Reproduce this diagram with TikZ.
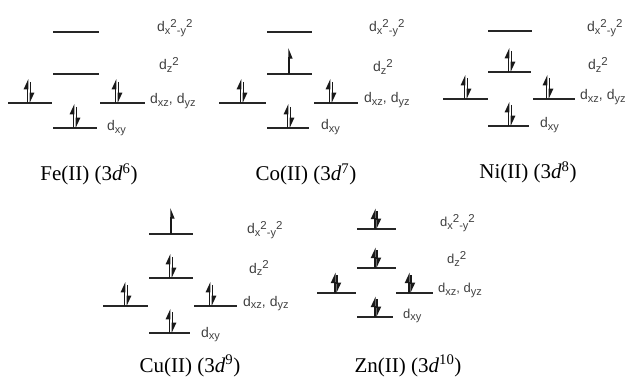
\documentclass[tikz,border=0pt]{standalone}
\usepackage{fontspec}
\setmainfont{Liberation Serif}
\newfontfamily\lblfont{Liberation Sans}
\usetikzlibrary{arrows.meta}

% sub- and superscripts of the orbital labels
\newcommand\lsub[1]{\raisebox{-0.4ex}{\fontsize{11}{11}\selectfont #1}}
\newcommand\lsup[1]{\raisebox{0.6ex}{\fontsize{11.5}{11.5}\selectfont #1}}

\begin{document}
\begin{tikzpicture}[
  x=1pt,y=-1pt,
  level/.style ={draw=black!85,line width=1.6pt},
  spin/.style  ={-{Triangle[harpoon,length=9pt,width=8pt]},line width=1.3pt,draw=black!90},
  spinr/.style ={-{Triangle[harpoon,swap,length=9pt,width=7pt]},line width=1.3pt,draw=black!90},
  orb/.style   ={font=\lblfont\fontsize{14}{16}\selectfont,text=black!75,
                 anchor=base west,inner sep=0pt},
  orbs/.style  ={orb,font=\lblfont\fontsize{13}{15}\selectfont},
  ion/.style   ={font=\fontsize{21}{24}\selectfont,anchor=base,inner sep=0pt},
  pair/.pic    ={\draw[spin] (-1.3,0) -- (-1.3,-24); \draw[spin] (1.3,-21) -- (1.3,0);},
  single/.pic  ={\draw[spinr] (0,0) -- (0,-26);},
]
\useasboundingbox (0,0) rectangle (630,377);

%% ======================================================
%% Fe(II)
%% ======================================================
\draw[level] (53,32)  -- (99,32);
\draw[level] (53,74)  -- (99,74);
\draw[level] (8,103)  -- (52,103);
\draw[level] (100,103) -- (145,103);
\draw[level] (53,128) -- (97,128);
\pic at (29,103)  {pair};
\pic at (117,103) {pair};
\pic at (75,128)  {pair};
\node[orb] (fex) at (157,32)  {d\lsub{x}\lsup{2}\lsub{-y}\lsup{2}};
\node[orb] (fez) at (159,70)  {d\lsub{z}\lsup{2}};
\node[orb] (fet) at (150,104) {d\lsub{xz}, d\lsub{yz}};
\node[orb] (fey) at (107,131) {d\lsub{xy}};
\node[ion] (fe)  at (89,181)  {Fe(II) (3\textit{d}\textsuperscript{6})};

%% ======================================================
%% Co(II)
%% ======================================================
\draw[level] (267,32)  -- (312,32);
\draw[level] (267,74)  -- (312,74);
\draw[level] (219,103) -- (266,103);
\draw[level] (314,103) -- (358,103);
\draw[level] (267,128) -- (309,128);
\pic at (289,74)  {single};
\pic at (242,103) {pair};
\pic at (331,103) {pair};
\pic at (289,128) {pair};
\node[orb] (cox) at (369,32)  {d\lsub{x}\lsup{2}\lsub{-y}\lsup{2}};
\node[orb] (coz) at (373,72)  {d\lsub{z}\lsup{2}};
\node[orb] (cot) at (364,103) {d\lsub{xz}, d\lsub{yz}};
\node[orb] (coy) at (321,130) {d\lsub{xy}};
\node[ion] (co)  at (306,181) {Co(II) (3\textit{d}\textsuperscript{7})};

%% ======================================================
%% Ni(II)
%% ======================================================
\draw[level] (488,31)  -- (532,31);
\draw[level] (488,72)  -- (531,72);
\draw[level] (443,99)  -- (488,99);
\draw[level] (533,99)  -- (575,99);
\draw[level] (488,126) -- (529,126);
\pic at (510,72)  {pair};
\pic at (466,99)  {pair};
\pic at (548,99)  {pair};
\pic at (510,126) {pair};
\node[orb] (nix) at (587,32)  {d\lsub{x}\lsup{2}\lsub{-y}\lsup{2}};
\node[orb] (niz) at (588,70)  {d\lsub{z}\lsup{2}};
\node[orb] (nit) at (580,100) {d\lsub{xz}, d\lsub{yz}};
\node[orb] (niy) at (540,128) {d\lsub{xy}};
\node[ion] (ni)  at (528,179) {Ni(II) (3\textit{d}\textsuperscript{8})};

%% ======================================================
%% Cu(II)
%% ======================================================
\draw[level] (149,234) -- (193,234);
\draw[level] (149,278) -- (193,278);
\draw[level] (103,306) -- (148,306);
\draw[level] (194,306) -- (237,306);
\draw[level] (149,333) -- (190,333);
\pic at (171,234) {single};
\pic at (171,278) {pair};
\pic at (126,306) {pair};
\pic at (211,306) {pair};
\pic at (171,333) {pair};
\node[orb] (cux) at (247,234) {d\lsub{x}\lsup{2}\lsub{-y}\lsup{2}};
\node[orb] (cuz) at (249,273) {d\lsub{z}\lsup{2}};
\node[orb] (cut) at (243,306) {d\lsub{xz}, d\lsub{yz}};
\node[orb] (cuy) at (201,337) {d\lsub{xy}};
\node[ion] (cu)  at (190,372) {Cu(II) (3\textit{d}\textsuperscript{9})};

%% ======================================================
%% Zn(II) -- drawn a little smaller
%% ======================================================
\draw[level] (357,229) -- (396,229);
\draw[level] (357,268) -- (396,268);
\draw[level] (317,293) -- (356,293);
\draw[level] (396,293) -- (433,293);
\draw[level] (357,317) -- (393,317);
\pic[scale=0.85] at (376,229) {pair};
\pic[scale=0.85] at (376,268) {pair};
\pic[scale=0.85] at (336,293) {pair};
\pic[scale=0.85] at (410,293) {pair};
\pic[scale=0.85] at (376,317) {pair};
\node[orbs] (znx) at (440,227) {d\lsub{x}\lsup{2}\lsub{-y}\lsup{2}};
\node[orbs] (znz) at (447,264) {d\lsub{z}\lsup{2}};
\node[orbs] (znt) at (438,293) {d\lsub{xz}, d\lsub{yz}};
\node[orbs] (zny) at (403,318) {d\lsub{xy}};
\node[ion] (zn)  at (408,372) {Zn(II) (3\textit{d}\textsuperscript{10})};

\end{tikzpicture}
\end{document}
